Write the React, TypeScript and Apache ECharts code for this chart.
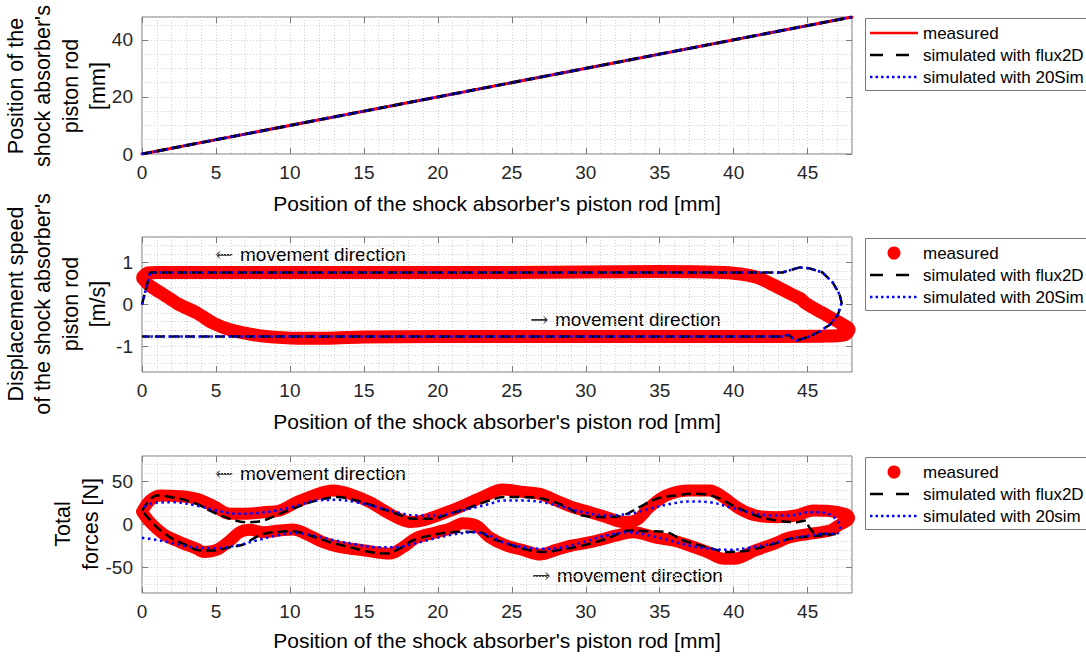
import React, { useEffect, useRef } from "react";
import * as echarts from "echarts";

// ---------- tick labels ----------
const xTickValues = [0, 5, 10, 15, 20, 25, 30, 35, 40, 45];
const posTickValues = [0, 20, 40];
const speedTickValues = [-1, 0, 1];
const forceTickValues = [-50, 0, 50];

// ---------- legends / labels ----------
const legendTopLabels = ["measured", "simulated with flux2D", "simulated with 20Sim"];
const legendMidLabels = ["measured", "simulated with flux2D", "simulated with 20Sim"];
const legendBotLabels = ["measured", "simulated with flux2D", "simulated with 20sim"];
const xTitle = "Position of the shock absorber's piston rod [mm]";
const yTitleTop = "Position of the\nshock absorber's\npiston rod\n[mm]";
const yTitleMid = "Displacement speed\nof the shock absorber's\npiston rod\n[m/s]";
const yTitleBot = "Total\nforces [N]";
const leftArrow = "\u2190";
const rightArrow = "\u2192";
const annotationText = "movement direction";

// ---------- data: position ----------
const posMeasured = [[0, 0], [48, 48]];
const posFlux2D = [[0, 0], [48, 48]];
const pos20Sim = [[0, 0], [48, 48]];

// ---------- data: speed ----------
const speedMeasured = [
  [0.05, 0.65], [0.4, 0.75], [1, 0.76], [5, 0.76], [10, 0.76], [15, 0.76], [20, 0.76],
  [25, 0.76], [30, 0.77], [35, 0.78], [38, 0.77], [40, 0.74], [41.5, 0.65], [42.7, 0.46],
  [43.8, 0.26], [44.5, 0.14], [44.9, 0.02], [46, -0.2], [47.2, -0.44], [47.8, -0.6],
  [47.5, -0.72], [46, -0.75], [40, -0.76], [30, -0.76], [20, -0.76], [15, -0.77],
  [12.5, -0.8], [10.5, -0.8], [8.2, -0.75], [7, -0.68], [5.95, -0.6], [4.8, -0.44],
  [3.7, -0.2], [2.8, -0.05], [2.4, 0.02], [1.44, 0.24], [0.54, 0.44], [0.05, 0.62]
];
const speedFlux2D = [
  [0, 0], [0.55, 0.76], [43.3, 0.76], [44.46, 0.88], [45.1, 0.86], [46, 0.76], [46.7, 0.52],
  [47.16, 0.24], [47.3, 0.04], [47.05, -0.24], [46.5, -0.48], [45.8, -0.64], [45.1, -0.76],
  [44.2, -0.86], [43.7, -0.72], [43.3, -0.76], [0, -0.76]
];
const speed20Sim = [
  [0, 0], [0.55, 0.76], [43.3, 0.76], [44.46, 0.88], [45.1, 0.86], [46, 0.76], [46.7, 0.52],
  [47.16, 0.24], [47.3, 0.04], [47.05, -0.24], [46.5, -0.48], [45.8, -0.64], [45.1, -0.76],
  [44.2, -0.86], [43.7, -0.72], [43.3, -0.76], [0, -0.76]
];

// ---------- data: forces ----------
const forceMeasured = [
  [0, 15], [0.54, 28], [1.2, 34], [2.57, 33], [3.7, 30], [4.8, 22], [5.95, 12.5], [7.07, 12.5],
  [8.2, 14.4], [9.3, 16.4], [10.45, 26], [11.6, 34], [12.9, 39.7], [14.05, 35.8], [15.4, 26],
  [16.75, 12.5], [18.1, 3], [19, 4.7], [20.6, 14.4], [21.7, 22], [23, 32], [24.4, 41],
  [25.8, 38], [26.9, 35.8], [28, 28], [29.1, 20.3], [30.3, 14.4], [31.4, 8.6], [32.5, 3],
  [33.4, 5], [34.3, 20], [35.45, 34], [37, 39.7], [38.4, 39.7], [39.3, 32], [40.4, 18.3],
  [41.5, 10.5], [42.9, 8.6], [44.2, 10.5], [45.4, 16.4], [46.3, 16], [47.6, 12], [47.8, 8],
  [47, -2], [46.5, -7], [45.1, -11], [43.8, -15], [42.7, -22.6], [41.5, -30], [40, -40],
  [39.3, -40], [38.2, -32], [37, -24.5], [35.9, -18.7], [34.8, -15.6], [33.2, -9], [32.1, -12.8],
  [30.3, -20.7], [29.1, -24.5], [28, -29.6], [26.9, -35], [25.8, -30], [24.6, -24.5],
  [23.5, -15], [22.6, -1.2], [21.7, 1.5], [20.8, -5], [19.9, -9], [18.55, -15.6],
  [17.65, -26.5], [16.75, -34], [14.95, -30], [13.4, -26.5], [12.25, -20.7], [11.1, -11],
  [10.2, -5.8], [9.3, -7], [8.2, -9], [7.3, -6.2], [6.6, -9], [5.95, -18.7], [5.05, -29.6],
  [4.14, -32], [3.7, -28.4], [2.57, -20.7], [1.44, -11], [0.54, 2.7], [0, 15]
];
const forceFlux2D = [
  [0, 16], [1, 34], [2.57, 30], [3.7, 24], [4.8, 14.4], [5.95, 6.6], [7.07, 2.7], [8.2, 4.7],
  [9.3, 12.5], [10.45, 20.3], [11.8, 28], [13.2, 32], [14.5, 28], [15.9, 20.3], [17.2, 12.5],
  [18.3, 6.6], [19.5, 6.6], [20.8, 12.5], [22.2, 20.3], [23.5, 28], [24.4, 32], [25.8, 32],
  [27.1, 30], [28.5, 22], [29.8, 10.5], [31.4, 8.6], [32.5, 10.5], [33.6, 20], [34.8, 30],
  [36.1, 34], [37.5, 36], [38.8, 32], [40.2, 20], [41.5, 10.5], [42.9, 4.7], [44.2, 2.7],
  [44.9, 4.7], [45.1, -3], [45.6, -11], [46.9, -11], [46, -12.5], [43.8, -16.7], [42.7, -22.6],
  [41.1, -30], [39.7, -32], [38.2, -26.5], [36.6, -18.7], [35.45, -9], [34.3, -7.8], [33, -7],
  [31.4, -16.7], [29.8, -24.5], [28, -30.4], [27.1, -32], [25.8, -28.4], [24.4, -20.7],
  [23.5, -15.6], [22.9, -9], [21.7, -8.5], [20.8, -9], [19.5, -12.8], [18.3, -18.7],
  [17.4, -28.4], [16.5, -34], [15.4, -32], [14.05, -26.5], [12.7, -20.7], [11.35, -12.8],
  [10.2, -7.8], [9.3, -8.5], [8.2, -11], [7.5, -16.7], [6.85, -23.4], [5.95, -26.5],
  [4.8, -30.4], [3.9, -30.4], [2.8, -22.6], [1.9, -15], [1, -3], [0, 16]
];
const force20sim = [
  [0, -15.6], [1, -18], [2.3, -22.6], [3.7, -27], [5.05, -27.6], [6.4, -24.5], [7.75, -18.7],
  [9.1, -12.8], [10.2, -10], [11.6, -12.8], [12.9, -18], [14.5, -23.4], [15.9, -26.5],
  [17.2, -26.5], [18.3, -22.6], [19.7, -16.7], [21, -11.7], [22.4, -9], [23.5, -13],
  [24.4, -20.7], [25.8, -26.5], [27.1, -28.4], [28.5, -26.5], [29.8, -20.7], [31.4, -12.8],
  [33, -9], [34.3, -12.8], [35.7, -18.7], [37, -24.5], [38.4, -28.4], [39.7, -29.6],
  [41.1, -27], [42.5, -22.6], [43.8, -16.7], [45.1, -13], [46, -11], [47, -10.5],
  [47.2, -3], [46.8, 8], [46, 14], [45.1, 14.4], [43.8, 10.5], [42.5, 10.5], [41.1, 14.4],
  [39.7, 20.3], [38.4, 26], [37, 27], [35.7, 24], [34.3, 18.3], [33, 12.5], [31.4, 10.5],
  [29.8, 14.4], [28.5, 20.3], [27.1, 26], [25.8, 28], [24.4, 28], [23.5, 24], [22.6, 20.3],
  [21.2, 14.4], [19.9, 10.5], [18.55, 10.5], [17.2, 14.4], [15.9, 20.3], [14.5, 26],
  [13.2, 28.8], [11.8, 28], [10.45, 22], [9.1, 16.4], [7.75, 13.3], [6.4, 12.5], [5.05, 16.4],
  [3.7, 22], [2.1, 26], [0.76, 25], [0, 19.5]
];

// ---------- styling ----------
const FONT = '"Liberation Sans", Arial, Helvetica, sans-serif';
const AXIS_COLOR = "#7a7a7a";
const GRID_COLOR = "#d0d0d0";
const LABEL_COLOR = "#262626";
const RED = "#ff0000";
const BLUE = "#0000ff";
const BLACK = "#000000";

const PLOT_LEFT = 142;
const PLOT_WIDTH = 710;
const grids = [
  { top: 17, height: 137 },
  { top: 237, height: 135 },
  { top: 456, height: 137 },
];
const yConf = [
  { min: 0, max: 48, interval: 5, ticks: posTickValues },
  { min: -1.6, max: 1.6, interval: 0.2, ticks: speedTickValues },
  { min: -80, max: 80, interval: 10, ticks: forceTickValues },
];

function buildOption() {
  const xAxes: any[] = [];
  const yAxes: any[] = [];
  const tick = (vals: number[]) => ({
    show: true, inside: true, length: 6, customValues: vals, lineStyle: { color: AXIS_COLOR, width: 1 },
  });
  grids.forEach((g, i) => {
    const yc = yConf[i];
    xAxes.push({
      type: "value", gridIndex: i, position: "bottom", min: 0, max: 48,
      axisLine: { show: false, onZero: false },
      axisTick: tick(xTickValues),
      axisLabel: { customValues: xTickValues, color: LABEL_COLOR, fontSize: 19, fontFamily: FONT, margin: 9 },
      splitLine: { show: false },
    });
    xAxes.push({
      type: "value", gridIndex: i, position: "top", min: 0, max: 48,
      axisLine: { show: false, onZero: false },
      axisTick: tick(xTickValues),
      axisLabel: { show: false },
      splitLine: { show: false },
    });
    xAxes.push({
      type: "value", gridIndex: i, position: "bottom", min: 0, max: 48, interval: 1,
      axisLine: { show: false, onZero: false },
      axisTick: { show: false },
      axisLabel: { show: false },
      splitLine: { show: true, lineStyle: { color: GRID_COLOR, type: [1, 2], width: 1 } },
    });

    yAxes.push({
      type: "value", gridIndex: i, position: "left", min: yc.min, max: yc.max,
      axisLine: { show: false, onZero: false },
      axisTick: tick(yc.ticks),
      axisLabel: { customValues: yc.ticks, color: LABEL_COLOR, fontSize: 19, fontFamily: FONT, margin: 9 },
      splitLine: { show: false },
    });
    yAxes.push({
      type: "value", gridIndex: i, position: "right", min: yc.min, max: yc.max,
      axisLine: { show: false, onZero: false },
      axisTick: tick(yc.ticks),
      axisLabel: { show: false },
      splitLine: { show: false },
    });
    yAxes.push({
      type: "value", gridIndex: i, position: "left", min: yc.min, max: yc.max, interval: yc.interval,
      axisLine: { show: false, onZero: false },
      axisTick: { show: false },
      axisLabel: { show: false },
      splitLine: { show: true, lineStyle: { color: GRID_COLOR, type: [1, 2], width: 1 } },
    });
  });

  const mk = (i: number, data: number[][], kind: "meas" | "flux" | "sim", width: number, smooth: any) => {
    const ls: any =
      kind === "meas"
        ? { color: RED, width, type: "solid", cap: "round", join: "round" }
        : kind === "flux"
        ? { color: BLACK, width, type: [10, 5] }
        : { color: BLUE, width, type: [2.5, 3.5] };
    return {
      type: "line", xAxisIndex: 3 * i, yAxisIndex: 3 * i, data, showSymbol: false, symbol: "none",
      smooth, lineStyle: ls, silent: true, z: kind === "meas" ? 2 : kind === "flux" ? 3 : 4,
    };
  };

  const series = [
    mk(0, posMeasured, "meas", 3, false),
    mk(0, posFlux2D, "flux", 3, false),
    mk(0, pos20Sim, "sim", 2.5, false),
    mk(1, speedMeasured, "meas", 13, 0.3),
    mk(1, speedFlux2D, "flux", 2.5, false),
    mk(1, speed20Sim, "sim", 2.5, false),
    mk(2, forceMeasured, "meas", 12, 0.35),
    mk(2, forceFlux2D, "flux", 2.5, 0.35),
    mk(2, force20sim, "sim", 2.5, 0.35),
  ];

  const graphic: any[] = [];
  const txt = (x: number, y: number, text: string, size: number, align = "left", rot = 0, lh?: number) => ({
    type: "text", x, y, rotation: rot, silent: true,
    style: {
      text, fill: "#000", fontSize: size, fontFamily: FONT,
      textAlign: align, textVerticalAlign: "middle", lineHeight: lh,
    },
  });

  // axis titles
  const xTitleY = [203, 421, 640];
  xTitleY.forEach((y) => graphic.push(txt(PLOT_LEFT + PLOT_WIDTH / 2, y, xTitle, 21, "center")));
  graphic.push(txt(57, 86, yTitleTop, 21.5, "center", Math.PI / 2, 27.5));
  graphic.push(txt(57, 304, yTitleMid, 21.5, "center", Math.PI / 2, 27.5));
  graphic.push(txt(77, 524, yTitleBot, 21.5, "center", Math.PI / 2, 27.5));

  // annotations (arrow glyph + text)
  const annot = (x: number, y: number, arrow: string) => {
    graphic.push({
      type: "text", x, y, silent: true,
      style: { text: arrow, fill: "#333", fontSize: 22, fontFamily: '"DejaVu Serif", serif', textAlign: "left", textVerticalAlign: "middle" },
    });
    graphic.push(txt(x + 25, y, annotationText, 19));
  };
  annot(215, 254, leftArrow);
  annot(530, 319, rightArrow);
  annot(215, 473, leftArrow);
  annot(532, 575, rightArrow);

  // legends
  const legends = [
    { top: 18, labels: legendTopLabels, dot: false },
    { top: 238, labels: legendMidLabels, dot: true },
    { top: 457, labels: legendBotLabels, dot: true },
  ];
  legends.forEach((L) => {
    graphic.push({
      type: "rect", silent: true,
      shape: { x: 865.5, y: L.top + 0.5, width: 300, height: 72 },
      style: { fill: "#fff", stroke: AXIS_COLOR, lineWidth: 1 },
    });
    const ys = [L.top + 15, L.top + 37, L.top + 59];
    if (L.dot) {
      graphic.push({ type: "circle", silent: true, shape: { cx: 894, cy: ys[0], r: 6.5 }, style: { fill: RED } });
    } else {
      graphic.push({ type: "line", silent: true, shape: { x1: 870, y1: ys[0], x2: 918, y2: ys[0] }, style: { stroke: RED, lineWidth: 2.5 } });
    }
    graphic.push({ type: "line", silent: true, shape: { x1: 870, y1: ys[1], x2: 918, y2: ys[1] }, style: { stroke: BLACK, lineWidth: 2.5, lineDash: [13, 13] } });
    graphic.push({ type: "line", silent: true, shape: { x1: 870, y1: ys[2], x2: 918, y2: ys[2] }, style: { stroke: BLUE, lineWidth: 2.5, lineDash: [2.5, 3] } });
    L.labels.forEach((lab, k) => graphic.push(txt(923, ys[k], lab, 17)));
  });

  return {
    animation: false,
    backgroundColor: "#ffffff",
    grid: grids.map((g) => ({
      left: PLOT_LEFT, top: g.top, width: PLOT_WIDTH, height: g.height,
      show: true, borderColor: AXIS_COLOR, borderWidth: 1, backgroundColor: "#fff",
    })),
    xAxis: xAxes,
    yAxis: yAxes,
    series,
    graphic,
  };
}

export default function App() {
  const ref = useRef<HTMLDivElement>(null);
  useEffect(() => {
    if (!ref.current) return;
    const chart = echarts.init(ref.current, null, { renderer: "svg" });
    chart.setOption(buildOption() as any);
    return () => chart.dispose();
  }, []);
  return (
    <div
      ref={ref}
      style={{ position: "absolute", left: 0, top: 0, width: 1086, height: 659, background: "#fff" }}
    />
  );
}
